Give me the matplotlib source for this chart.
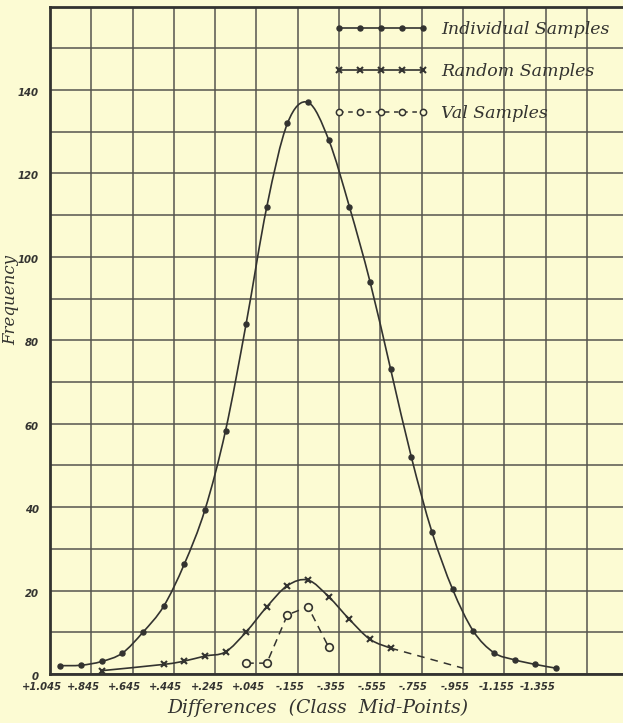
import numpy as np
import matplotlib
matplotlib.use("Agg")
import matplotlib.pyplot as plt
from matplotlib.path import Path
from matplotlib.patches import PathPatch
from matplotlib.lines import Line2D
import matplotlib.transforms as mtransforms

# ---------------- data ----------------
x_tick_values = [1.045, 0.845, 0.645, 0.445, 0.245, 0.045, -0.155, -0.355,
                 -0.555, -0.755, -0.955, -1.155, -1.355]
x_tick_labels = ["+1.045", "+.845", "+.645", "+.445", "+.245", "+.045", "-.155",
                 "-.355", "-.555", "-.755", "-.955", "-1.155", "-1.355"]
x_extra_grid = [-1.555]
y_tick_values = [0, 20, 40, 60, 80, 100, 120, 140]

individual_x = [0.995, 0.895, 0.795, 0.695, 0.595, 0.495, 0.395, 0.295, 0.195,
                0.095, -0.005, -0.105, -0.205, -0.305, -0.405, -0.505, -0.605,
                -0.705, -0.805, -0.905, -1.005, -1.105, -1.205, -1.305, -1.405]
individual_y = [2.0, 2.1, 3.0, 5.0, 10.0, 16.2, 26.3, 39.3, 58.3, 84, 112, 132,
                137, 128, 112, 94, 73, 52, 34, 20.3, 10.3, 5.1, 3.4, 2.3, 1.4]

random_x = [0.795, 0.495, 0.395, 0.295, 0.195, 0.095, -0.005, -0.105, -0.205,
            -0.305, -0.405, -0.505, -0.605]
random_y = [0.8, 2.3, 3.1, 4.3, 5.3, 10.1, 16.1, 21.2, 22.5, 18.5, 13.1, 8.3, 6.2]
random_tail_x = [-0.605, -0.955]
random_tail_y = [6.2, 1.4]

val_x = [0.095, -0.005, -0.105, -0.205, -0.305]
val_y = [2.6, 2.6, 14.2, 16.1, 6.4]

legend_labels = ["Individual Samples", "Random Samples", "Val Samples"]

# ---------------- style ----------------
BG = "#fcfbd3"
INK = "#333330"
GRID = "#55554f"


def smooth_path(xs, ys):
    """Catmull-Rom curve through the points, as cubic Bezier segments."""
    P = np.column_stack([xs, ys]).astype(float)
    n = len(P)
    verts = [P[0]]
    codes = [Path.MOVETO]
    for i in range(n - 1):
        p0 = P[i - 1] if i > 0 else P[i]
        p1 = P[i]
        p2 = P[i + 1]
        p3 = P[i + 2] if i + 2 < n else P[i + 1]
        c1 = p1 + (p2 - p0) / 6.0
        c2 = p2 - (p3 - p1) / 6.0
        verts += [c1, c2, p2]
        codes += [Path.CURVE4] * 3
    return Path(verts, codes)


fig = plt.figure(figsize=(6.23, 7.23), dpi=100, facecolor=BG)
AX_H = 667.5
ax = fig.add_axes([50 / 623, 49 / 723, 1 - 50 / 623, AX_H / 723])
ax.set_facecolor(BG)
ax.set_xlim(1.045, -1.730)
ax.set_ylim(0, 160)

# grid
ax.set_xticks(x_tick_values)
ax.set_xticklabels(x_tick_labels)
ax.set_xticks(x_extra_grid, minor=True)
ax.set_yticks(y_tick_values)
ax.set_yticks(np.arange(10, 160, 20), minor=True)
ax.grid(True, which="both", color=GRID, linewidth=1.1)
ax.set_axisbelow(True)
ax.tick_params(which="both", length=0)
ax.tick_params(axis="x", pad=6, labelsize=7.2, labelcolor=INK)
ax.tick_params(axis="y", pad=8, labelsize=7.3, labelcolor=INK)
for lab in ax.get_xticklabels() + ax.get_yticklabels():
    lab.set_fontstyle("italic")
    lab.set_fontweight("bold")
off = mtransforms.ScaledTranslation(-8 / 100, 0, fig.dpi_scale_trans)
for lab in ax.get_xticklabels():
    lab.set_transform(lab.get_transform() + off)
offy = mtransforms.ScaledTranslation(0, -2 / 100, fig.dpi_scale_trans)
for lab in ax.get_yticklabels():
    lab.set_transform(lab.get_transform() + offy)

for s in ["left", "bottom", "top"]:
    ax.spines[s].set_color(INK)
    ax.spines[s].set_linewidth(2.0)
ax.spines["right"].set_visible(False)

# curves
ax.add_patch(PathPatch(smooth_path(individual_x, individual_y), fill=False,
                       edgecolor=INK, linewidth=1.2, zorder=3))
ax.plot(individual_x, individual_y, linestyle="none", marker="o", markersize=3.6,
        color=INK, zorder=4)

ax.add_patch(PathPatch(smooth_path(random_x, random_y), fill=False,
                       edgecolor=INK, linewidth=1.2, zorder=3))
ax.plot(random_x, random_y, linestyle="none", marker="x", markersize=5,
        markeredgewidth=1.5, color=INK, zorder=4)
ax.plot(random_tail_x, random_tail_y, linestyle=(0, (5, 4)), linewidth=1.1,
        color=INK, zorder=3)

ax.plot(val_x, val_y, linestyle=(0, (5, 3.5)), linewidth=1.1, color=INK,
        marker="o", markersize=5.5, markerfacecolor=BG, markeredgewidth=1.2,
        zorder=4)

# legend
h1 = Line2D([], [], color=INK, linewidth=1.2, marker="o", markersize=3.6)
h2 = Line2D([], [], color=INK, linewidth=1.2, marker="x", markersize=5,
            markeredgewidth=1.5)
h3 = Line2D([], [], color=INK, linewidth=1.1, linestyle=(0, (3, 3)), marker="o",
            markersize=4.5, markerfacecolor=BG, markeredgewidth=1.1)
leg = ax.legend([h1, h2, h3], legend_labels, loc="upper left",
                bbox_to_anchor=((334 - 50) / 573, (674 - 21) / AX_H),
                frameon=False, numpoints=5, handlelength=5.4, handletextpad=0.75,
                labelspacing=1.45, borderpad=0, borderaxespad=0,
                prop={"family": "DejaVu Serif", "style": "italic", "size": 12.5})
for t in leg.get_texts():
    t.set_color(INK)

ax.set_ylabel("Frequency", family="DejaVu Serif", style="italic", fontsize=12,
              color=INK)
ax.yaxis.set_label_coords(-(50 - 11) / 573, (674 - 300) / AX_H)
ax.yaxis.label.set_va("center")

ax.set_xlabel("Differences  (Class  Mid-Points)", family="DejaVu Serif",
              style="italic", fontsize=13.5, color=INK)
ax.xaxis.set_label_coords((318 - 50) / 573, -(708 - 674) / AX_H)
ax.xaxis.label.set_va("center")

fig.savefig("out.png", dpi=100, facecolor=BG)
